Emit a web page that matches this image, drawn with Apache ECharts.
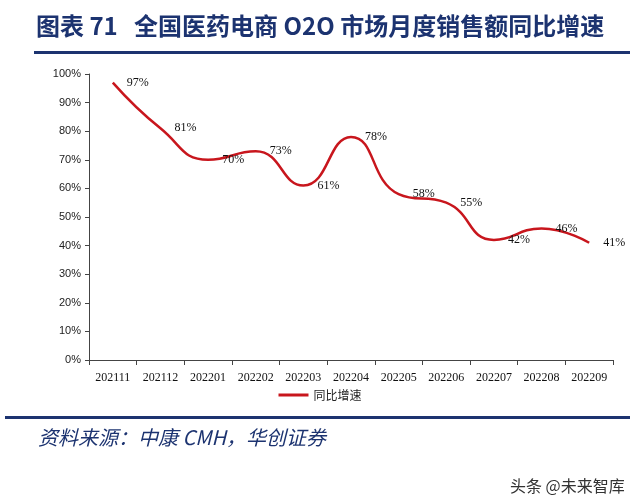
<!DOCTYPE html>
<html><head><meta charset="utf-8">
<script src="https://cdn.jsdelivr.net/npm/echarts@6/dist/echarts.min.js"></script>
<style>html,body{margin:0;padding:0;background:#fff}#c{width:640px;height:503px}</style>
</head><body><div id="c"></div>
<script>
const categories = ['202111','202112','202201','202202','202203','202204','202205','202206','202207','202208','202209'];
const growth = [97, 81, 70, 73, 61, 78, 58, 55, 42, 46, 41];
const yTicks = {min: 0, max: 100, interval: 10};
const seriesName = '同比增速';
const titleText = '图表 71   全国医药电商 O2O 市场月度销售额同比增速';
const sourceText = '资料来源：中康 CMH，华创证券';
const watermark = '头条 @未来智库';

const serif = '"Liberation Serif", "DejaVu Serif", serif';
const chart = echarts.init(document.getElementById('c'));
const navy = '#1c3370';
chart.setOption({
  animation: false,
  backgroundColor: '#fff',
  grid: {left: 89, right: 27, top: 74, bottom: 143},
  legend: {
    data: [seriesName], top: 384, left: 'center',
    itemWidth: 30, itemHeight: 3, icon: 'rect', itemGap: 4,
    textStyle: {fontFamily: 'Noto Sans CJK SC', fontSize: 12, color: '#222'}
  },
  xAxis: {
    type: 'category', data: categories, boundaryGap: true,
    axisLine: {lineStyle: {color: '#444'}},
    axisTick: {show: true, alignWithLabel: false, lineStyle: {color: '#444'}},
    axisLabel: {fontFamily: serif, fontSize: 12, color: '#111', margin: 12}
  },
  yAxis: {
    type: 'value', min: yTicks.min, max: yTicks.max, interval: yTicks.interval,
    axisLine: {show: true, lineStyle: {color: '#444'}},
    axisTick: {show: true, length: 4, lineStyle: {color: '#444'}},
    splitLine: {show: false},
    axisLabel: {formatter: '{value}%', fontFamily: 'Liberation Sans', fontSize: 11, color: '#222', margin: 8}
  },
  series: [{
    name: seriesName, type: 'line', data: growth, smooth: 0.5,
    symbol: 'circle', symbolSize: 0.1, showSymbol: true,
    lineStyle: {color: '#c8161d', width: 2.5}, itemStyle: {color: '#c8161d'},
    label: {show: true, position: 'right', distance: 14, formatter: '{c}%',
      fontFamily: serif, fontSize: 12, color: '#111'}
  }],
  graphic: [
    {type: 'text', left: 36, top: 14, style: {text: titleText, font: 'bold 24px "Noto Sans CJK SC"', fill: navy}},
    {type: 'rect', shape: {x: 34, y: 51, width: 596, height: 3}, style: {fill: navy}},
    {type: 'rect', shape: {x: 5, y: 416, width: 625, height: 3}, style: {fill: navy}},
    {type: 'text', left: 38, top: 427, style: {text: sourceText, font: 'italic 20px "Noto Sans CJK SC"', fill: navy}},
    {type: 'text', left: 510, top: 478, style: {text: watermark, font: '16px "Noto Sans CJK SC"', fill: '#333'}}
  ]
});
</script></body></html>
